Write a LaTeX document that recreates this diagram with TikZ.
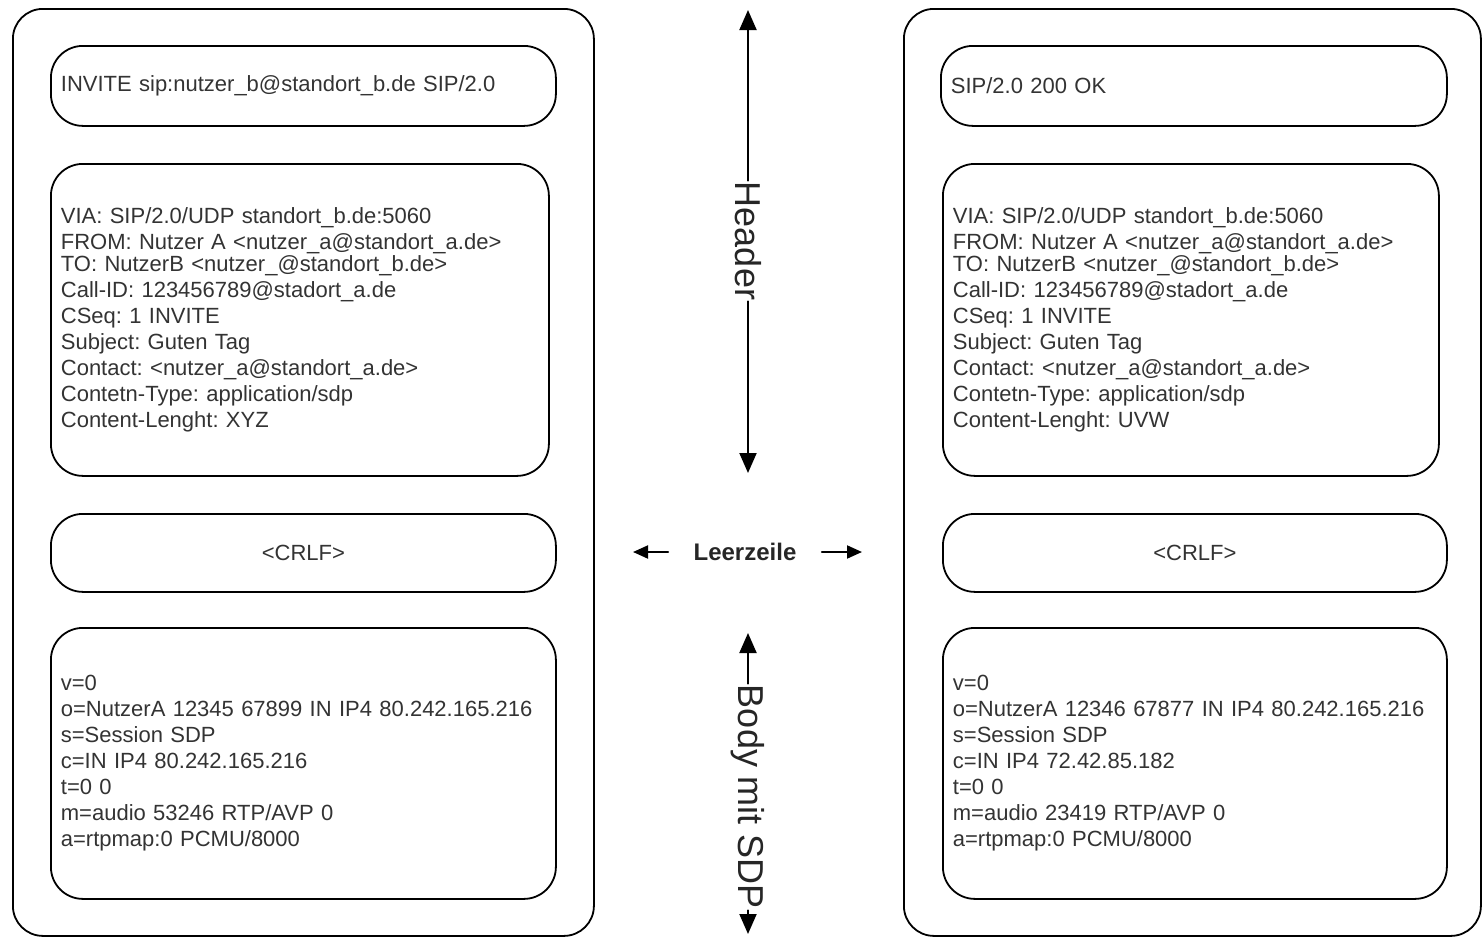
\documentclass[tikz,border=0pt]{standalone}
\usepackage{fontspec}
\setmainfont{Liberation Sans}
\usetikzlibrary{arrows.meta}
\frenchspacing

\begin{document}
\begin{tikzpicture}[x=0.5pt, y=-0.5pt, line cap=round, line join=round,
    msg/.style={draw, line width=0.9pt, rounded corners=15pt, anchor=north west, inner sep=0pt},
    part/.style={draw, line width=0.9pt, rounded corners=16pt, anchor=north west, inner xsep=5pt, inner ysep=0pt,
        align=left, text=black!80, font=\fontsize{11}{13}\selectfont},
    arr/.style={-{Triangle[width=8.5pt,length=10pt]}, line width=1pt},
    sarr/.style={-{Triangle[width=6.5pt,length=7.5pt]}, line width=1pt},
    side/.style={rotate=-90, text=black!85, inner sep=0.5pt, font=\fontsize{18}{18}\selectfont}]
    \useasboundingbox (0,0) rectangle (1484,937);
    \node[msg, minimum width=290.5pt, minimum height=463.5pt] (msgA) at (12,8) {};
    \node[part, text width=242.5pt, minimum height=40pt] (startA) at (50,45) {INVITE sip:nutzer\_b@standort\_b.de SIP/2.0};
    \node[part, text width=239pt, minimum height=156pt] (headA) at (50,163) {VIA: SIP/2.0/UDP standort\_b.de:5060\\
        FROM: Nutzer A <nutzer\_a@standort\_a.de>\\[-2pt]
        TO: NutzerB <nutzer\_@standort\_b.de>\\
        Call-ID: 123456789@stadort\_a.de\\
        CSeq: 1 INVITE\\
        Subject: Guten Tag\\
        Contact: <nutzer\_a@standort\_a.de>\\
        Contetn-Type: application/sdp\\
        Content-Lenght: XYZ};
    \node[part, text width=242.5pt, minimum height=39pt, align=center] (crlfA) at (50,513) {<CRLF>};
    \node[part, text width=242.5pt, minimum height=135.5pt] (bodyA) at (50,627) {v=0\\
        o=NutzerA 12345 67899 IN IP4 80.242.165.216\\
        s=Session SDP\\
        c=IN IP4 80.242.165.216\\
        t=0 0\\
        m=audio 53246 RTP/AVP 0\\
        a=rtpmap:0 PCMU/8000};
    \node[msg, minimum width=288.5pt, minimum height=463.5pt] (msgB) at (903,8) {};
    \node[part, text width=243pt, minimum height=40pt] (startB) at (940,45) {SIP/2.0 200 OK};
    \node[part, text width=238pt, minimum height=156pt] (headB) at (942,163) {VIA: SIP/2.0/UDP standort\_b.de:5060\\
        FROM: Nutzer A <nutzer\_a@standort\_a.de>\\[-2pt]
        TO: NutzerB <nutzer\_@standort\_b.de>\\
        Call-ID: 123456789@stadort\_a.de\\
        CSeq: 1 INVITE\\
        Subject: Guten Tag\\
        Contact: <nutzer\_a@standort\_a.de>\\
        Contetn-Type: application/sdp\\
        Content-Lenght: UVW};
    \node[part, text width=242pt, minimum height=39pt, align=center] (crlfB) at (942,513) {<CRLF>};
    \node[part, text width=242pt, minimum height=135.5pt] (bodyB) at (942,627) {v=0\\
        o=NutzerA 12346 67877 IN IP4 80.242.165.216\\
        s=Session SDP\\
        c=IN IP4 72.42.85.182\\
        t=0 0\\
        m=audio 23419 RTP/AVP 0\\
        a=rtpmap:0 PCMU/8000};
    \coordinate (hdtop) at (748,10);
    \coordinate (hdbot) at (748,473);
    \coordinate (bdtop) at (748,633);
    \coordinate (bdbot) at (748,934);
    \coordinate (lzl) at (633,552);
    \coordinate (lzr) at (862,552);
    \node[side] (hd) at (748,241) {Header};
    \node[side] (bd) at (748,797) {Body mit SDP};
    \node[inner xsep=12.5pt, inner ysep=2pt, text=black!85, font=\bfseries\fontsize{12}{14}\selectfont] (leer) at (745,552) {Leerzeile};
    \foreach \a/\b in {hd/hdtop,hd/hdbot,bd/bdtop,bd/bdbot}
        \draw[arr](\a)--(\b);
    \foreach \b in {lzl,lzr}
        \draw[sarr](leer)--(\b);
\end{tikzpicture}
\end{document}
